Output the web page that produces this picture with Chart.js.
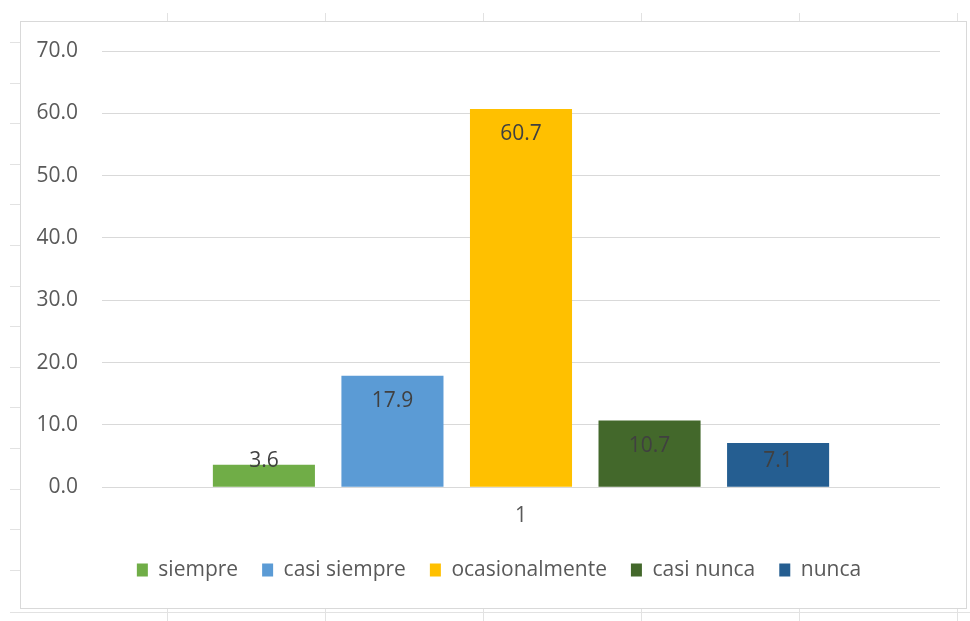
<!DOCTYPE html>
<html>
<head>
<meta charset="utf-8">
<script src="https://cdn.jsdelivr.net/npm/chart.js@4"></script>
<style>
  html, body { margin: 0; padding: 0; background: #ffffff; }
  #wrap { position: relative; width: 970px; height: 621px; }
</style>
</head>
<body>
<div id="wrap"><canvas id="c" width="970" height="621"></canvas></div>
<script>
// ---- data ----
const categories = ['1'];
const seriesNames = ['siempre', 'casi siempre', 'ocasionalmente', 'casi nunca', 'nunca'];
const seriesValues = [3.6, 17.9, 60.7, 10.7, 7.1];
const seriesColors = ['#70AD47', '#5B9BD5', '#FFC000', '#43682B', '#255E91'];
const yTicks = [0, 10, 20, 30, 40, 50, 60, 70];

const FONT = "'Open Sans', 'DejaVu Sans', sans-serif";
Chart.defaults.font.family = FONT;

const frame = {
  id: 'frame',
  beforeDraw(chart) {
    const ctx = chart.ctx;
    ctx.save();
    ctx.fillStyle = '#ffffff';
    ctx.fillRect(0, 0, chart.width, chart.height);
    // spreadsheet cell ticks
    ctx.strokeStyle = '#E2E2E2';
    ctx.lineWidth = 1;
    const cols = [167, 325, 483, 641, 799, 957];
    ctx.beginPath();
    cols.forEach(x => {
      ctx.moveTo(x + 0.5, 13); ctx.lineTo(x + 0.5, 22);
      ctx.moveTo(x + 0.5, 608); ctx.lineTo(x + 0.5, 621);
    });
    for (let k = 0; k < 14; k++) {
      const y = Math.round(42 + k * 40.6) + 0.5;
      ctx.moveTo(10, y); ctx.lineTo(20, y);
    }
    ctx.moveTo(10, 612.5); ctx.lineTo(970, 612.5);
    ctx.stroke();
    // chart border
    ctx.strokeStyle = '#D9D9D9';
    ctx.strokeRect(20.5, 21.5, 946, 587);
    ctx.restore();
  }
};

// shift the legend so it is centred like the reference
const legendShift = {
  id: 'legendShift',
  afterLayout(chart) {
    const lg = chart.legend;
    if (lg) { lg.left += 29; lg.right += 29; }
  }
};

const barLabels = {
  id: 'barLabels',
  afterDatasetsDraw(chart) {
    const ctx = chart.ctx;
    ctx.save();
    ctx.font = '21px ' + FONT;
    ctx.fillStyle = '#404040';
    ctx.textAlign = 'center';
    ctx.textBaseline = 'middle';
    chart.data.datasets.forEach((ds, i) => {
      const meta = chart.getDatasetMeta(i);
      meta.data.forEach((el, j) => {
        const v = ds.data[j];
        const y = Math.min(el.y + 25.5, el.base - 26);
        ctx.fillText(v.toFixed(1), el.x, y);
      });
    });
    ctx.restore();
  }
};

new Chart(document.getElementById('c'), {
  type: 'bar',
  data: {
    labels: categories,
    datasets: seriesNames.map((name, i) => ({
      label: name,
      data: [seriesValues[i]],
      backgroundColor: seriesColors[i],
      borderWidth: 0,
      categoryPercentage: 0.767,
      barPercentage: 0.794
    }))
  },
  options: {
    responsive: false,
    animation: false,
    devicePixelRatio: 1,
    layout: { padding: { top: 51, left: 0, right: 30, bottom: 30.5 } },
    plugins: {
      tooltip: { enabled: false },
      legend: {
        position: 'bottom',
        align: 'center',
        labels: {
          boxWidth: 11,
          boxHeight: 13,
          padding: 24,
          color: '#595959',
          font: { size: 21, family: FONT }
        }
      }
    },
    scales: {
      x: {
        offset: true,
        grid: { display: false, drawTicks: false },
        border: { display: false },
        ticks: { color: '#595959', font: { size: 21 }, padding: 16 },
        afterFit(scale) { scale.height = 48.2; }
      },
      y: {
        min: 0,
        max: 70,
        afterBuildTicks(scale) { scale.ticks = yTicks.map(v => ({ value: v })); },
        grid: { color: '#D9D9D9', lineWidth: 1, drawTicks: false },
        border: { display: false },
        ticks: {
          color: '#595959',
          font: { size: 21 },
          padding: 24,
          callback: v => Number(v).toFixed(1)
        },
        afterFit(scale) { scale.width = 102; }
      }
    }
  },
  plugins: [frame, legendShift, barLabels]
});
</script>
</body>
</html>
